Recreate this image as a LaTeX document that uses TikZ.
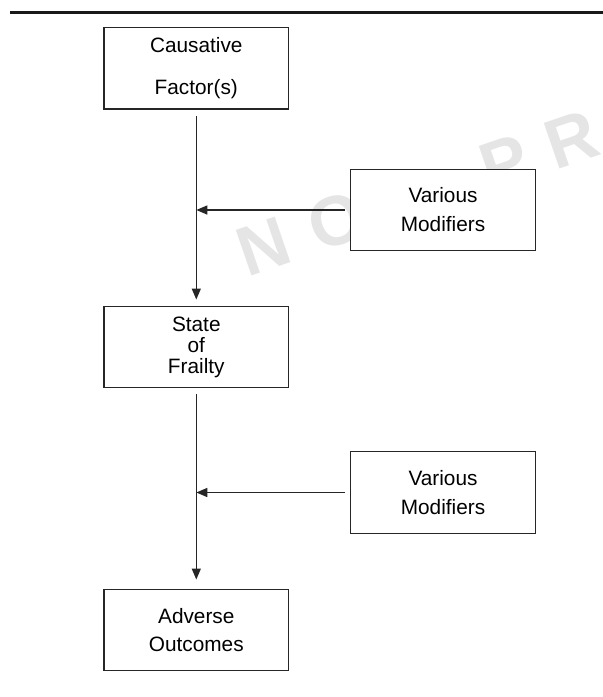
\documentclass[tikz,border=0pt]{standalone}
\usepackage{fontspec}
\setmainfont{Liberation Sans}
\usetikzlibrary{arrows.meta}
\begin{document}
\begin{tikzpicture}[x=1pt,y=-1pt,
  box/.style={draw=black!85, line width=1.4pt, fill=white, minimum width=184.5pt, minimum height=81.5pt, inner sep=0pt, align=center},
  conn/.style={draw=black!85, line width=1.4pt, -{Triangle[length=11pt,width=9pt]}},
  wm/.style={text=black!10, font=\fontsize{70}{70}\bfseries\selectfont, rotate=19, inner sep=0pt}]
\useasboundingbox (0,0) rectangle (603,697);
% top rule
\draw[line width=2.7pt, black!90] (10,12.3) -- (603,12.3);
% watermark
\node[wm] (wN) at (264,246) {N};
\node[wm] (wO) at (336,221) {O};
\node[wm] (wP) at (505,163) {P};
\node[wm] (wR) at (572,139) {R};
% boxes
\node[box, font=\fontsize{20.8}{42}\selectfont] (cause) at (196.3,68.3) {Causative\\Factor(s)};
\node[box, font=\fontsize{20.8}{29}\selectfont] (mod1) at (443,210) {Various\\Modifiers};
\node[box, font=\fontsize{20.8}{21}\selectfont] (frail) at (196.3,347) {State\\of\\Frailty};
\node[box, font=\fontsize{20.8}{29}\selectfont] (mod2) at (443,492.5) {Various\\Modifiers};
\node[box, font=\fontsize{20.8}{28}\selectfont] (adv) at (196.3,630) {Adverse\\Outcomes};
% connectors
\coordinate (j1) at (cause.south |- mod1.west);
\coordinate (j2) at (frail.south |- mod2.west);
\draw[conn] ([yshift=-6pt]cause.south) -- ([yshift=6pt]frail.north);
\draw[conn] ([yshift=-6pt]frail.south) -- ([yshift=9pt]adv.north);
\draw[conn] ([xshift=-5pt]mod1.west) -- (j1);
\draw[conn] ([xshift=-5pt]mod2.west) -- (j2);
\end{tikzpicture}
\end{document}
